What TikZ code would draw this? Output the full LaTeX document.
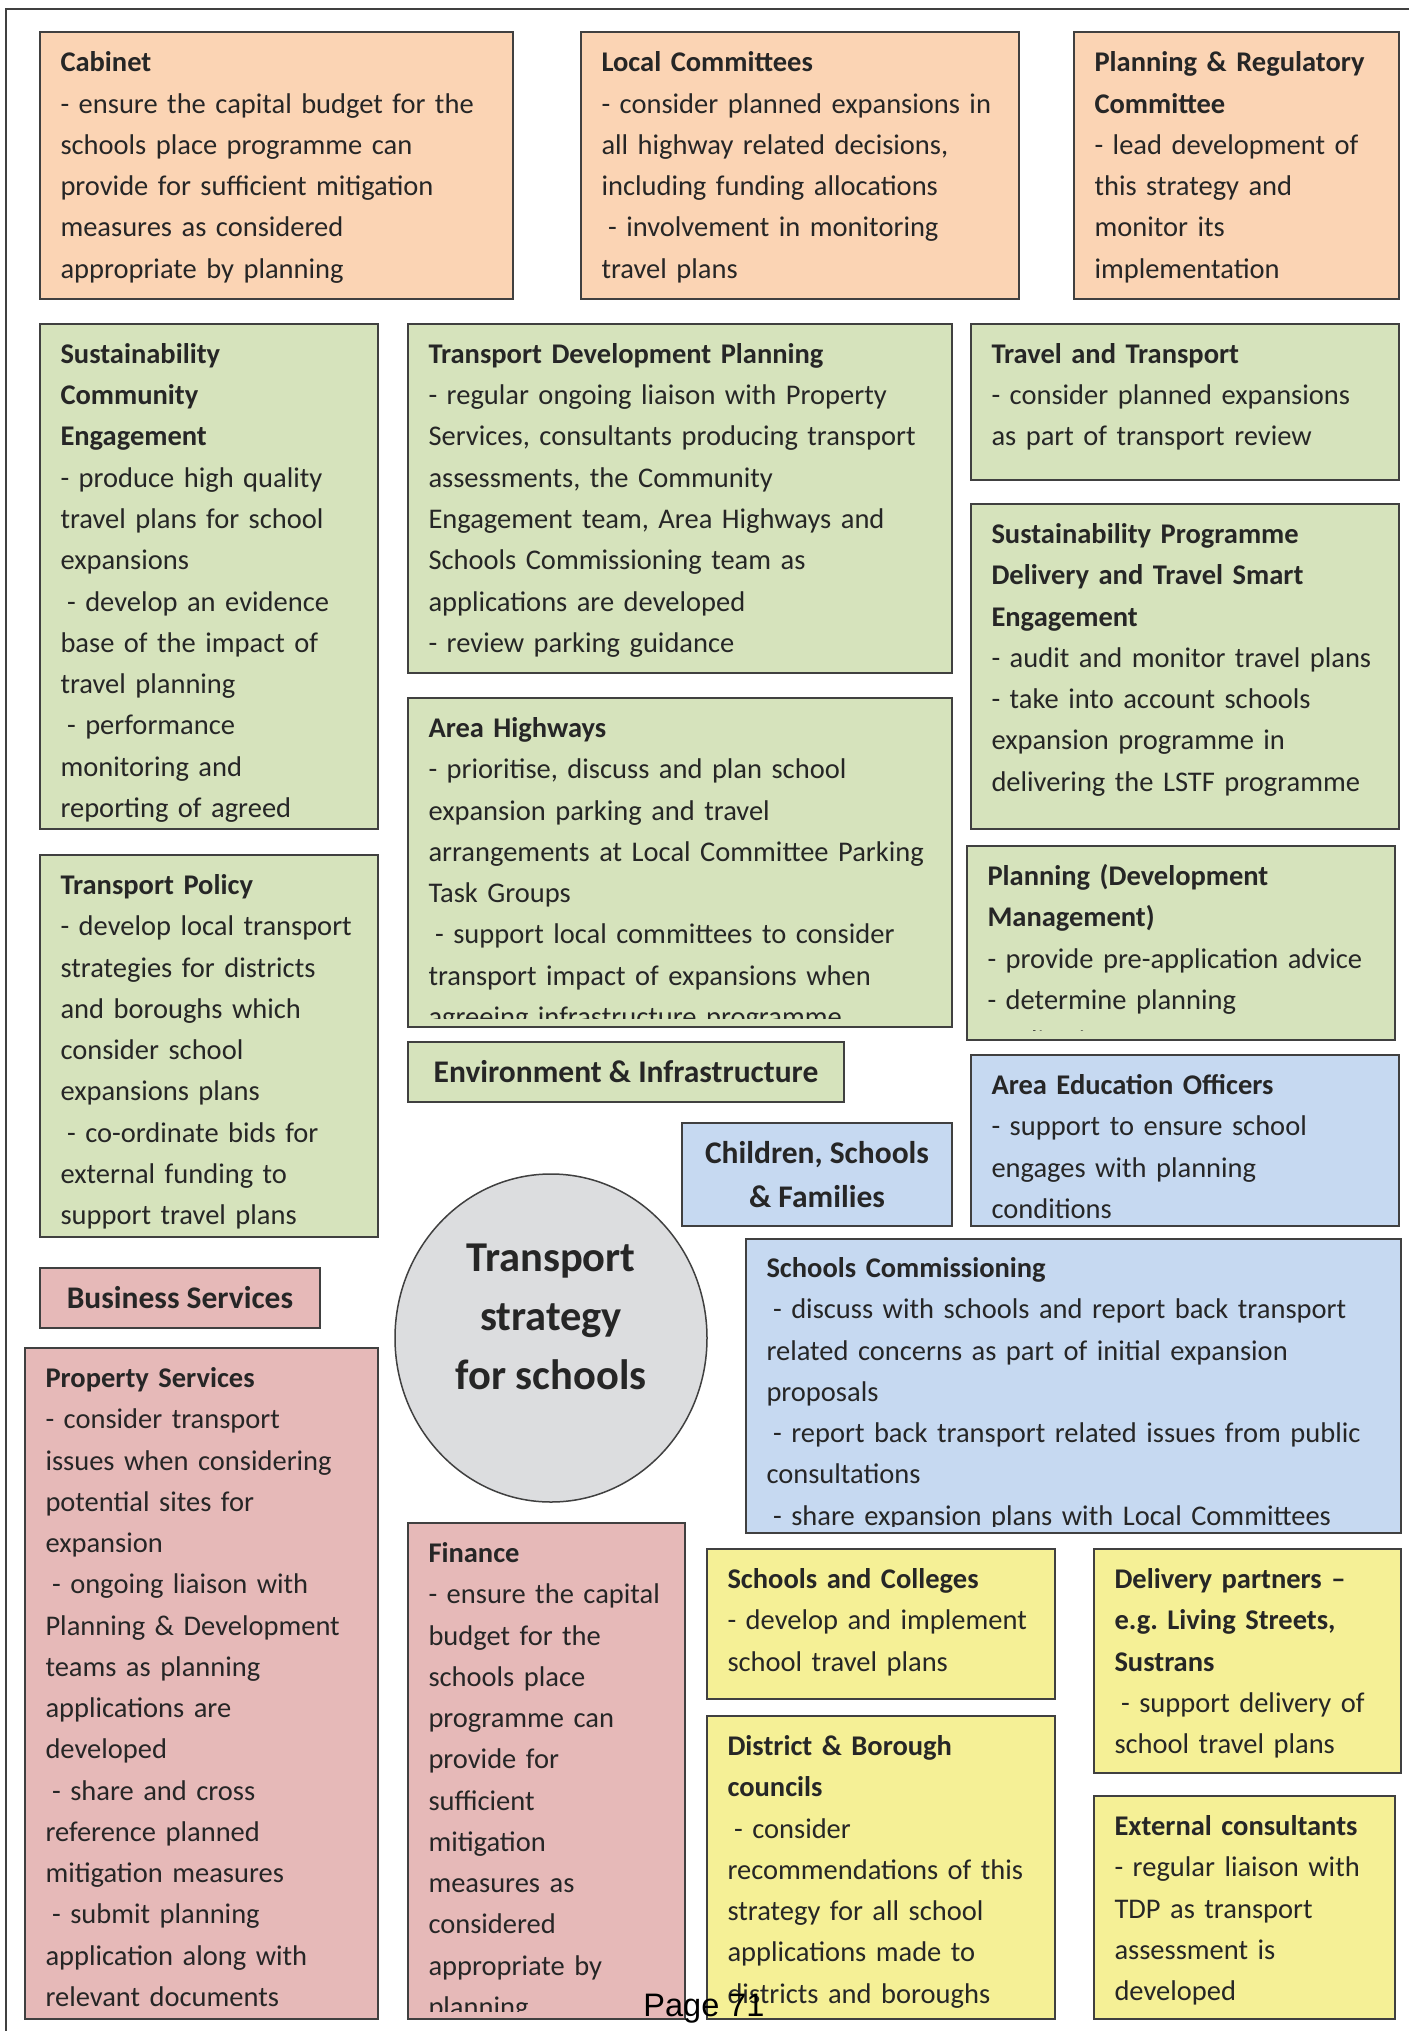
\documentclass[tikz,border=0pt]{standalone}
\usepackage{fontspec}
\setmainfont{Carlito}
\newfontfamily\pagenumfont{Liberation Sans}
\usepackage{tikz}
\usetikzlibrary{positioning, fit, shapes.geometric}

\definecolor{cabinetorange}{HTML}{FBD4B4}
\definecolor{envgreen}{HTML}{D6E3BC}
\definecolor{childblue}{HTML}{C6D9F1}
\definecolor{businesspink}{HTML}{E6B9B8}
\definecolor{partneryellow}{HTML}{F5F096}
\definecolor{hubgrey}{HTML}{DCDDDF}
\definecolor{edgegrey}{HTML}{404040}
\definecolor{inkgrey}{HTML}{262626}

\newcommand{\indsp}{\hspace*{.23em}}
\frenchspacing

\tikzset{
  orgbox/.style={draw=edgegrey, line width=0.6pt, inner sep=0pt, outer sep=0pt},
  boxtext/.style={anchor=base west, align=left, text width=#1, inner sep=0pt, text=inkgrey,
    font=\fontsize{11.4}{16.5}\selectfont},
  grouplabel/.style={align=center, inner sep=0pt, text=inkgrey,
    font=\fontsize{12.6}{17.6}\selectfont\bfseries},
  hubtext/.style={align=center, inner sep=0pt, text=inkgrey,
    font=\fontsize{17}{23.5}\selectfont\bfseries},
}

\begin{document}
\begin{tikzpicture}[x=0.4pt, y=-0.4pt]
  \useasboundingbox (0,0) rectangle (1409,2031);
  \fill[white] (0,0) rectangle (1409,2031);

  % page frame
  \draw[edgegrey, line width=0.7pt] (1409,9) -- (6,9) -- (6,2031);

  % Committees
  \node[orgbox, fill=cabinetorange, fit={(40,32) (513,299)}] (cabinet) {};
  \node[boxtext=178pt] (cabinet-t) at ([shift={(20,40)}]cabinet.north west)
    {\textbf{Cabinet}\\- ensure the capital budget for the\\schools place programme can\\provide for sufficient mitigation\\measures as considered\\appropriate by planning};

  \node[orgbox, fill=cabinetorange, fit={(581,32) (1019,299)}] (localcom) {};
  \node[boxtext=164pt] (localcom-t) at ([shift={(20,40)}]localcom.north west)
    {\textbf{Local Committees}\\- consider planned expansions in\\all highway related decisions,\\including funding allocations\\\indsp- involvement in monitoring\\travel plans};

  \node[orgbox, fill=cabinetorange, fit={(1074,32) (1399,299)}] (planreg) {};
  \node[boxtext=120pt] (planreg-t) at ([shift={(20,40)}]planreg.north west)
    {\textbf{Planning \& Regulatory}\\\textbf{Committee}\\- lead development of\\this strategy and\\monitor its\\implementation};

  % Environment & Infrastructure
  \node[orgbox, fill=envgreen, fit={(40,324) (378,829)}] (sustcom) {};
  \node[boxtext=126pt] (sustcom-t) at ([shift={(20,39.5)}]sustcom.north west)
    {\textbf{Sustainability}\\\textbf{Community}\\\textbf{Engagement}\\- produce high quality\\travel plans for school\\expansions\\\indsp- develop an evidence\\base of the impact of\\travel planning\\\indsp- performance\\monitoring and\\reporting of agreed};

  \node[orgbox, fill=envgreen, fit={(408,324) (952,673)}] (tdp) {};
  \node[boxtext=207pt] (tdp-t) at ([shift={(20,39.5)}]tdp.north west)
    {\textbf{Transport Development Planning}\\- regular ongoing liaison with Property\\Services, consultants producing transport\\assessments, the Community\\Engagement team, Area Highways and\\Schools Commissioning team as\\applications are developed\\- review parking guidance};

  \node[orgbox, fill=envgreen, fit={(971,324) (1399,480)}] (travel) {};
  \node[boxtext=161pt] (travel-t) at ([shift={(20,39.5)}]travel.north west)
    {\textbf{Travel and Transport}\\- consider planned expansions\\as part of transport review};

  \node[orgbox, fill=envgreen, fit={(971,504) (1399,829)}] (sustprog) {};
  \node[boxtext=161pt] (sustprog-t) at ([shift={(20,39.5)}]sustprog.north west)
    {\textbf{Sustainability Programme}\\\textbf{Delivery and Travel Smart}\\\textbf{Engagement}\\- audit and monitor travel plans\\- take into account schools\\expansion programme in\\delivering the LSTF programme};

  \node[orgbox, fill=envgreen, fit={(408,698) (952,1027)}] (highways) {};
  \begin{scope}
    \clip ([shift={(1,1)}]highways.north west) rectangle ([shift={(-1,-9)}]highways.south east);
    \node[boxtext=207pt] (highways-t) at ([shift={(20,39.5)}]highways.north west)
      {\textbf{Area Highways}\\- prioritise, discuss and plan school\\expansion parking and travel\\arrangements at Local Committee Parking\\Task Groups\\\indsp- support local committees to consider\\transport impact of expansions when\\agreeing infrastructure programme};
  \end{scope}

  \node[orgbox, fill=envgreen, fit={(40,855) (378,1237)}] (policy) {};
  \node[boxtext=126pt] (policy-t) at ([shift={(20,39.5)}]policy.north west)
    {\textbf{Transport Policy}\\- develop local transport\\strategies for districts\\and boroughs which\\consider school\\expansions plans\\\indsp- co-ordinate bids for\\external funding to\\support travel plans};

  \node[orgbox, fill=envgreen, fit={(967,846) (1395,1040)}] (devman) {};
  \begin{scope}
    \clip ([shift={(1,1)}]devman.north west) rectangle ([shift={(-1,-10)}]devman.south east);
    \node[boxtext=161pt] (devman-t) at ([shift={(20,39.5)}]devman.north west)
      {\textbf{Planning (Development}\\\textbf{Management)}\\- provide pre-application advice\\- determine planning\\applications};
  \end{scope}

  \node[orgbox, fill=envgreen, fit={(408,1042) (844,1102)}] (envinf) {};
  \node[grouplabel] (envinf-t) at (envinf.center) {Environment \& Infrastructure};

  % Children, Schools & Families
  \node[orgbox, fill=childblue, fit={(682,1123) (952,1226)}] (csf) {};
  \node[grouplabel] (csf-t) at (csf.center) {Children, Schools\\\& Families};

  \node[orgbox, fill=childblue, fit={(971,1055) (1399,1226)}] (areaedu) {};
  \node[boxtext=161pt] (areaedu-t) at ([shift={(20,39.5)}]areaedu.north west)
    {\textbf{Area Education Officers}\\- support to ensure school\\engages with planning\\conditions};

  \node[orgbox, fill=childblue, fit={(746,1239) (1401,1533)}] (schcom) {};
  \begin{scope}
    \clip ([shift={(1,1)}]schcom.north west) rectangle ([shift={(-1,-7)}]schcom.south east);
    \node[boxtext=251pt] (schcom-t) at ([shift={(20,38.5)}]schcom.north west)
      {\textbf{Schools Commissioning}\\\indsp- discuss with schools and report back transport\\related concerns as part of initial expansion\\proposals\\\indsp- report back transport related issues from public\\consultations\\\indsp- share expansion plans with Local Committees};
  \end{scope}

  % central hub
  \node[ellipse, draw=edgegrey, line width=0.6pt, fill=hubgrey, minimum width=124.8pt,
    minimum height=131.2pt, inner sep=0pt] (strategy) at (551,1338) {};
  \node[hubtext] (strategy-t) at ([shift={(0,-21)}]strategy.center) {Transport\\strategy\\for schools};

  % Business Services
  \node[orgbox, fill=businesspink, fit={(40,1268) (320,1328)}] (business) {};
  \node[grouplabel] (business-t) at (business.center) {Business Services};

  \node[orgbox, fill=businesspink, fit={(25,1348) (378,2019)}] (property) {};
  \node[boxtext=131pt] (property-t) at ([shift={(20,39.5)}]property.north west)
    {\textbf{Property Services}\\- consider transport\\issues when considering\\potential sites for\\expansion\\\indsp- ongoing liaison with\\Planning \& Development\\teams as planning\\applications are\\developed\\\indsp- share and cross\\reference planned\\mitigation measures\\\indsp- submit planning\\application along with\\relevant documents};

  \node[orgbox, fill=businesspink, fit={(408,1523) (685,2019)}] (finance) {};
  \begin{scope}
    \clip ([shift={(1,1)}]finance.north west) rectangle ([shift={(-1,-8)}]finance.south east);
    \node[boxtext=100pt] (finance-t) at ([shift={(20,39.5)}]finance.north west)
      {\textbf{Finance}\\- ensure the capital\\budget for the\\schools place\\programme can\\provide for\\sufficient\\mitigation\\measures as\\considered\\appropriate by\\planning};
  \end{scope}

  % Partners
  \node[orgbox, fill=partneryellow, fit={(707,1549) (1055,1699)}] (colleges) {};
  \node[boxtext=129pt] (colleges-t) at ([shift={(20,39.5)}]colleges.north west)
    {\textbf{Schools and Colleges}\\- develop and implement\\school travel plans};

  \node[orgbox, fill=partneryellow, fit={(707,1716) (1055,2019)}] (councils) {};
  \node[boxtext=129pt] (councils-t) at ([shift={(20,39.5)}]councils.north west)
    {\textbf{District \& Borough}\\\textbf{councils}\\\indsp- consider\\recommendations of this\\strategy for all school\\applications made to\\districts and boroughs};

  \node[orgbox, fill=partneryellow, fit={(1094,1549) (1401,1773)}] (delivery) {};
  \node[boxtext=112pt] (delivery-t) at ([shift={(20,39.5)}]delivery.north west)
    {\textbf{Delivery partners --}\\\textbf{e.g. Living Streets,}\\\textbf{Sustrans}\\\indsp- support delivery of\\school travel plans};

  \node[orgbox, fill=partneryellow, fit={(1094,1796) (1395,2019)}] (consult) {};
  \node[boxtext=110pt] (consult-t) at ([shift={(20,39.5)}]consult.north west)
    {\textbf{External consultants}\\- regular liaison with\\TDP as transport\\assessment is\\developed};

  % page number
  \node[anchor=base, inner sep=0pt, font=\pagenumfont\fontsize{13}{15}\selectfont] (pagenum) at (704,2016) {Page 71};
\end{tikzpicture}
\end{document}
